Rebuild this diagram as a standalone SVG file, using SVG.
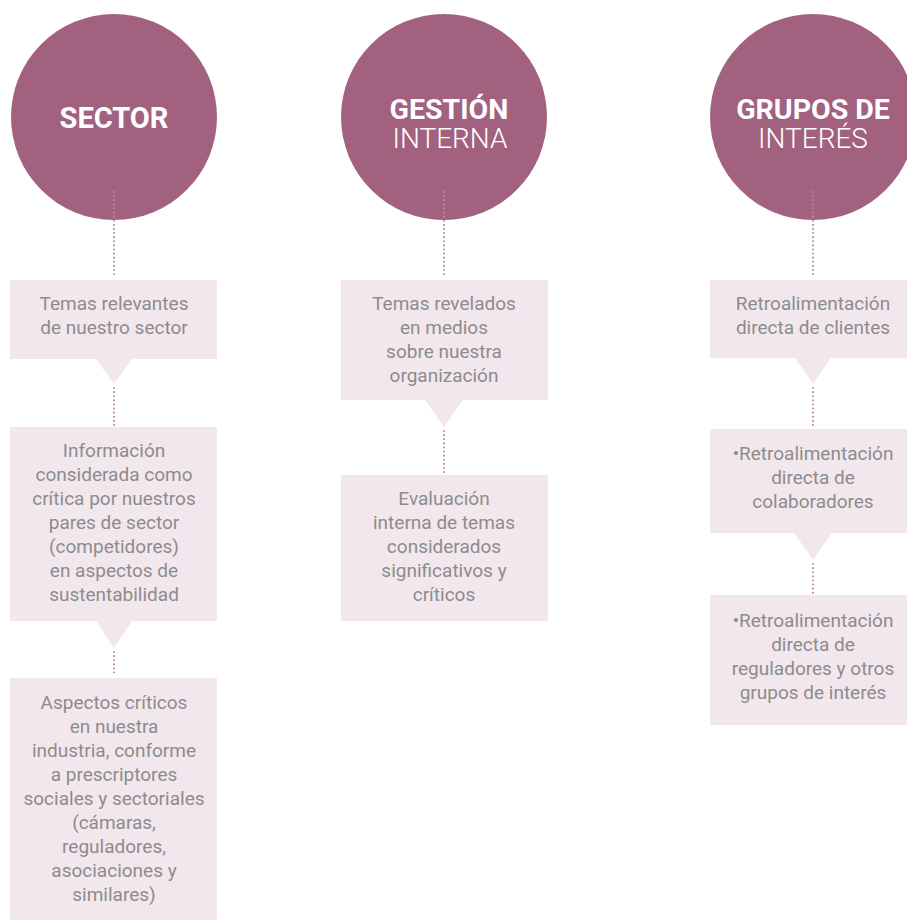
<svg xmlns="http://www.w3.org/2000/svg" width="907" height="920" viewBox="0 0 907 920">
<style>
.circ{fill:#a2627f}
.box{fill:#f3e7ee}
.t{font-family:Roboto,"Liberation Sans",sans-serif;font-size:19px;fill:#8c8c8c;text-anchor:middle}
.hb{font-family:Roboto,"Liberation Sans",sans-serif;font-weight:bold;fill:#ffffff;text-anchor:middle}
.hl{font-family:Roboto,"Liberation Sans",sans-serif;font-weight:300;fill:#ffffff;text-anchor:middle}
.dot{stroke:#b98aa2;stroke-width:2;stroke-linecap:round;stroke-dasharray:0.1 4;fill:none}
</style>
<rect width="907" height="920" fill="#ffffff"/>
<g id="sector">
<circle class="circ" cx="114" cy="117" r="103"/>
<text class="hb" x="114" y="128" font-size="29">SECTOR</text>
</g>
<g id="gestion">
<circle class="circ" cx="444" cy="117" r="103"/>
<text class="hb" x="449" y="119" font-size="28.5">GESTIÓN</text>
<text class="hl" x="450" y="148" font-size="28">INTERNA</text>
</g>
<g id="grupos">
<circle class="circ" cx="813" cy="117" r="103"/>
<text class="hb" x="813" y="119" font-size="28.5">GRUPOS DE</text>
<text class="hl" x="813" y="148" font-size="28">INTERÉS</text>
</g>
<g id="connectors">
<line class="dot" x1="114" y1="192" x2="114" y2="277"/>
<line class="dot" x1="114" y1="388" x2="114" y2="425"/>
<line class="dot" x1="114" y1="652" x2="114" y2="676"/>
<line class="dot" x1="444" y1="192" x2="444" y2="277"/>
<line class="dot" x1="444" y1="431" x2="444" y2="473"/>
<line class="dot" x1="813" y1="192" x2="813" y2="277"/>
<line class="dot" x1="813" y1="388" x2="813" y2="427"/>
<line class="dot" x1="813" y1="564" x2="813" y2="593"/>
</g>
<g id="s1">
<path class="box" d="M10 280H217V359H132L114 384L96 359H10Z"/>
<text class="t" x="114" y="310">Temas relevantes</text>
<text class="t" x="114" y="334">de nuestro sector</text>
</g>
<g id="s2">
<path class="box" d="M10 427H217V621H132L114 648L96 621H10Z"/>
<text class="t" x="114" y="457">Información</text>
<text class="t" x="114" y="481">considerada como</text>
<text class="t" x="114" y="505">crítica por nuestros</text>
<text class="t" x="114" y="529">pares de sector</text>
<text class="t" x="114" y="553">(competidores)</text>
<text class="t" x="114" y="577">en aspectos de</text>
<text class="t" x="114" y="601">sustentabilidad</text>
</g>
<g id="s3">
<rect class="box" x="10" y="678" width="207" height="242"/>
<text class="t" x="114" y="709">Aspectos críticos</text>
<text class="t" x="114" y="733">en nuestra</text>
<text class="t" x="114" y="757">industria, conforme</text>
<text class="t" x="114" y="781">a prescriptores</text>
<text class="t" x="114" y="805">sociales y sectoriales</text>
<text class="t" x="114" y="829">(cámaras,</text>
<text class="t" x="114" y="853">reguladores,</text>
<text class="t" x="114" y="877">asociaciones y</text>
<text class="t" x="114" y="901">similares)</text>
</g>
<g id="g1">
<path class="box" d="M341 280H548V400H463L444 427L425 400H341Z"/>
<text class="t" x="444" y="310">Temas revelados</text>
<text class="t" x="444" y="334">en medios</text>
<text class="t" x="444" y="358">sobre nuestra</text>
<text class="t" x="444" y="382">organización</text>
</g>
<g id="g2">
<rect class="box" x="341" y="475" width="207" height="146"/>
<text class="t" x="444" y="505">Evaluación</text>
<text class="t" x="444" y="529">interna de temas</text>
<text class="t" x="444" y="553">considerados</text>
<text class="t" x="444" y="577">significativos y</text>
<text class="t" x="444" y="601">críticos</text>
</g>
<g id="i1">
<path class="box" d="M710 280H917V358H831L813 384L795 358H710Z"/>
<text class="t" x="813" y="310">Retroalimentación</text>
<text class="t" x="813" y="334">directa de clientes</text>
</g>
<g id="i2">
<path class="box" d="M710 429H917V533H832L813 560L794 533H710Z"/>
<text class="t" x="813" y="460">•Retroalimentación</text>
<text class="t" x="813" y="484">directa de</text>
<text class="t" x="813" y="508">colaboradores</text>
</g>
<g id="i3">
<rect class="box" x="710" y="595" width="207" height="130"/>
<text class="t" x="813" y="627">•Retroalimentación</text>
<text class="t" x="813" y="651">directa de</text>
<text class="t" x="813" y="675">reguladores y otros</text>
<text class="t" x="813" y="699">grupos de interés</text>
</g>
</svg>
